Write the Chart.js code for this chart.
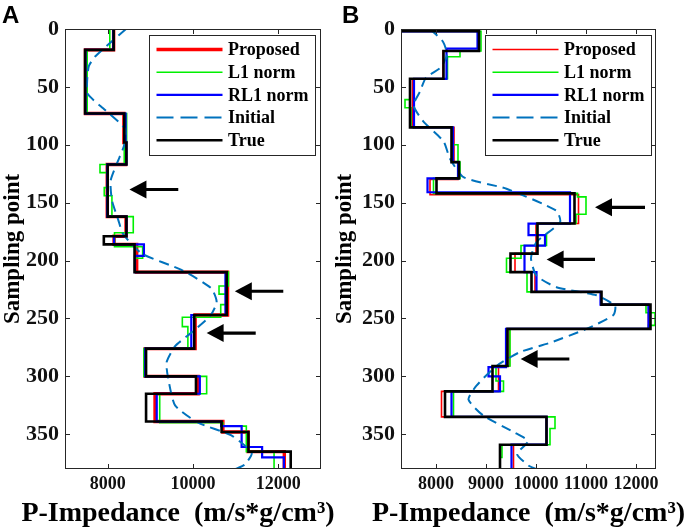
<!DOCTYPE html>
<html><head><meta charset="utf-8">
<script src="https://cdn.jsdelivr.net/npm/chart.js@4.4.0/dist/chart.umd.min.js"></script>
<style>
html,body{margin:0;padding:0;background:#fff;}
#wrap{position:relative;width:692px;height:530px;overflow:hidden;background:#fff;}
canvas{position:absolute;top:0;}
#ca{left:0;} #cb{left:330px;}
</style></head><body>
<div id="wrap"><canvas id="ca" width="340" height="530"></canvas><canvas id="cb" width="362" height="530"></canvas></div>
<script>
// ---------- data ----------
const seriesNames = ['Proposed', 'L1 norm', 'RL1 norm', 'Initial', 'True'];
const xTitleText = 'P-Impedance  (m/s*g/cm\u00b3)';
const yTitleText = 'Sampling point';
const depthMax = 380;
const yTicks = [0, 50, 100, 150, 200, 250, 300, 350];
const xTicksA = [8000, 10000, 12000];
const xTicksB = [8000, 9000, 10000, 11000, 12000];

// Panel A
const trueTopsA = [0, 18, 73, 98, 117, 162, 179, 186, 210, 247, 276, 300, 315, 339, 348, 365];
const trueValsA = [8140, 7470, 8390, 8440, 8000, 8440, 7910, 8630, 10790, 10030, 8900, 10070, 8900, 10670, 11300, 12290];
const propTopsA = [0, 18, 73, 98, 117, 162, 179, 186, 210, 247, 276, 300, 315, 339, 348, 365];
const propValsA = [8140, 7480, 8380, 8420, 7990, 8430, 8150, 8680, 10810, 10050, 8880, 10120, 9110, 10700, 11290, 12140];
const rl1TopsA = [0, 18, 73, 98, 117, 162, 179, 186, 196, 210, 247, 276, 300, 315, 339, 343, 361, 370];
const rl1ValsA = [8130, 7480, 8420, 8440, 7990, 8440, 8150, 8850, 8640, 10760, 9960, 8880, 10160, 9150, 10660, 11140, 11620, 12130];
const l1TopsA = [0, 18, 73, 98, 117, 124, 137, 144, 162, 176, 188, 198, 210, 222, 229, 238, 249, 257, 276, 300, 315, 340, 343, 365];
const l1ValsA = [8050, 7520, 8445, 8390, 7820, 8000, 7920, 8100, 8600, 8160, 8820, 8640, 10830, 10610, 10800, 10650, 9750, 9880, 8850, 10320, 9220, 10700, 11250, 11900];
const iniDepthA = [0, 10, 24, 32, 44, 56, 70, 86, 100, 115, 131, 148, 165, 177, 194, 208, 224, 236, 248, 262, 274, 288, 302, 325, 340, 351, 366, 376, 380];
const iniValsA = [8430, 8120, 7700, 7560, 7520, 7530, 7940, 8400, 8390, 8230, 8070, 8100, 8250, 8360, 8800, 9730, 10430, 10555, 10400, 9970, 9580, 9380, 9420, 9580, 10120, 10900, 11375, 11220, 11000];
const arrowTipA = [8510, 10980, 10320];
const arrowTailA = [9655, 12116, 11470];
const arrowDepthA = [138.6, 226.5, 262.6];

// Panel B
const trueTopsB = [0, 2, 19, 43, 85, 115, 129, 142, 168, 194, 210, 227, 238, 259, 291, 313, 335, 359];
const trueValsB = [7310, 8860, 8150, 7480, 8310, 8460, 8010, 10770, 10030, 9490, 9910, 11310, 12290, 9430, 9130, 8180, 10210, 9280];
const propTopsB = [0, 2, 19, 43, 85, 115, 130, 143, 168, 194, 210, 227, 238, 259, 291, 313, 335, 359];
const propValsB = [7310, 8850, 8140, 7530, 8360, 8440, 7880, 10850, 10000, 9580, 9980, 11300, 12250, 9470, 9250, 8110, 10210, 9550];
const rl1TopsB = [0, 2, 17, 43, 85, 115, 129, 141, 168, 178, 187, 210, 227, 238, 259, 292, 300, 313, 335, 359];
const rl1ValsB = [7310, 8830, 8210, 7560, 8340, 8440, 7830, 10680, 9850, 10180, 9770, 10010, 11290, 12250, 9400, 9050, 9280, 8310, 10210, 9510];
const l1TopsB = [0, 2, 19, 24, 43, 61, 68, 85, 100, 115, 129, 142, 145, 160, 168, 178, 187, 198, 210, 227, 238, 245, 256, 259, 291, 304, 313, 335, 345, 359, 370];
const l1ValsB = [7310, 8900, 8480, 8230, 7480, 7380, 7500, 8340, 8440, 8480, 7950, 10830, 11000, 10800, 10020, 10210, 9700, 9410, 9820, 11300, 12200, 12380, 12250, 9480, 9200, 9350, 8350, 10380, 10280, 9320, 9280];
const iniDepthB = [0, 11, 22, 33, 42, 54, 66, 80, 97, 112, 128, 138, 157, 167, 184, 198, 213, 223, 230, 239, 247, 259, 271, 279, 291, 308, 320, 334, 348, 356, 367, 377, 380];
const iniValsB = [7880, 8140, 8220, 8100, 7800, 7680, 7550, 7750, 8150, 8280, 8550, 9410, 10410, 10480, 10010, 9900, 10010, 10410, 11210, 11580, 11550, 11010, 10280, 9680, 9210, 8810, 8650, 8950, 9550, 9840, 9620, 9850, 10000];
const arrowTipB = [11180, 10213, 9693];
const arrowTailB = [12180, 11180, 10667];
const arrowDepthB = [154, 199, 285];

// ---------- helpers ----------
function steps(tops, vals) {
  const pts = tops.map((t, i) => ({x: vals[i], y: t}));
  pts.push({x: vals[vals.length - 1], y: depthMax});
  return pts;
}
function curve(depths, vals) { return depths.map((d, i) => ({x: vals[i], y: d})); }

const SERIF = '"Liberation Serif", "Times New Roman", serif';
const AXIS_COLOR = '#262626';

const framePlugin = {
  id: 'frame',
  afterDatasetsDraw(chart) {
    const {ctx, chartArea: a, scales: {x, y}} = chart;
    ctx.save();
    ctx.strokeStyle = AXIS_COLOR; ctx.lineWidth = 1;
    ctx.strokeRect(a.left + 0.5, a.top + 0.5, a.right - a.left - 1, a.bottom - a.top - 1);
    const L = 5;
    ctx.beginPath();
    x.ticks.forEach(t => {
      const px = Math.round(x.getPixelForValue(t.value)) + 0.5;
      ctx.moveTo(px, a.bottom); ctx.lineTo(px, a.bottom - L);
      ctx.moveTo(px, a.top); ctx.lineTo(px, a.top + L);
    });
    y.ticks.forEach(t => {
      const py = Math.round(y.getPixelForValue(t.value)) + 0.5;
      ctx.moveTo(a.left, py); ctx.lineTo(a.left + L, py);
      ctx.moveTo(a.right, py); ctx.lineTo(a.right - L, py);
    });
    ctx.stroke();
    ctx.restore();
  }
};

const arrowPlugin = {
  id: 'arrows',
  afterDatasetsDraw(chart, args, opts) {
    const {ctx, scales: {x, y}} = chart;
    ctx.save();
    ctx.fillStyle = '#000'; ctx.strokeStyle = '#000';
    opts.tip.forEach((tv, i) => {
      const tx = x.getPixelForValue(tv), ex = x.getPixelForValue(opts.tail[i]);
      const py = y.getPixelForValue(opts.depth[i]);
      const hl = 17, hw = 9;
      ctx.lineWidth = 3.2;
      ctx.beginPath(); ctx.moveTo(tx + hl - 1, py); ctx.lineTo(ex, py); ctx.stroke();
      ctx.beginPath(); ctx.moveTo(tx, py); ctx.lineTo(tx + hl, py - hw); ctx.lineTo(tx + hl, py + hw); ctx.closePath(); ctx.fill();
    });
    ctx.restore();
  }
};

const legendPlugin = {
  id: 'boxLegend',
  afterDraw(chart, args, opts) {
    const {ctx, chartArea: a} = chart;
    const w = 166, h = 120;
    const left = a.right - opts.rightGap - w, top = a.top + 6;
    ctx.save();
    ctx.fillStyle = '#fff'; ctx.fillRect(left, top, w, h);
    ctx.strokeStyle = AXIS_COLOR; ctx.lineWidth = 1;
    ctx.strokeRect(left + 0.5, top + 0.5, w, h);
    ctx.font = 'bold 18px ' + SERIF; ctx.textBaseline = 'middle'; ctx.fillStyle = '#000';
    chart.data.datasets.forEach((ds, i) => {
      const ry = top + 14.5 + i * 22.7;
      ctx.beginPath();
      ctx.strokeStyle = ds.borderColor; ctx.lineWidth = ds.borderWidth;
      ctx.setLineDash(ds.borderDash && ds.borderDash.length ? [17, 7] : []);
      ctx.moveTo(left + 7.5, ry); ctx.lineTo(left + 73.5, ry); ctx.stroke();
      ctx.setLineDash([]);
      ctx.fillText(ds.label, left + 79, ry + 1);
    });
    ctx.restore();
  }
};

// panel letter and x-axis title (drawn without width compression)
const textPlugin = {
  id: 'panelText',
  afterDraw(chart, args, opts) {
    const {ctx, chartArea: a} = chart;
    ctx.save();
    ctx.fillStyle = '#000'; ctx.textBaseline = 'alphabetic';
    ctx.font = 'bold 24px "Liberation Sans", Arial, sans-serif';
    ctx.textAlign = 'left';
    ctx.fillText(opts.label, opts.labelX, 23);
    ctx.font = 'bold 28px ' + SERIF;
    ctx.textAlign = 'center';
    ctx.fillText(opts.xTitle, (a.left + a.right) / 2 + opts.titleShift, 521);
    ctx.restore();
  }
};

function makeChart(id, c) {
  const ds = (label, data, color, width, order, extra) => Object.assign({
    label, data, borderColor: color, backgroundColor: color, borderWidth: width,
    showLine: true, pointRadius: 0, pointHoverRadius: 0, fill: false, order
  }, extra || {});
  return new Chart(document.getElementById(id), {
    type: 'scatter',
    data: {datasets: [
      ds(seriesNames[0], steps(c.propTops, c.propVals), '#ff0000', c.propWidth, 4, {stepped: 'after'}),
      ds(seriesNames[1], steps(c.l1Tops, c.l1Vals), '#00f000', 1.6, 3, {stepped: 'after'}),
      ds(seriesNames[2], steps(c.rl1Tops, c.rl1Vals), '#0000ff', 2.2, 2, {stepped: 'after'}),
      ds(seriesNames[3], curve(c.iniDepth, c.iniVals), '#0072bd', 2, 1, {borderDash: [10, 6], tension: 0.2}),
      ds(seriesNames[4], steps(c.trueTops, c.trueVals), '#000000', 2.6, 0, {stepped: 'after'})
    ]},
    options: {
      responsive: false, animation: false, events: [],
      layout: {padding: {left: 0, top: 29, right: c.padRight, bottom: 0}},
      plugins: {
        legend: {display: false}, tooltip: {enabled: false},
        arrows: {tip: c.arrowTip, tail: c.arrowTail, depth: c.arrowDepth},
        boxLegend: {rightGap: c.legendGap},
        panelText: {label: c.label, labelX: c.labelX, xTitle: xTitleText, titleShift: c.titleShift}
      },
      scales: {
        x: {
          type: 'linear', position: 'bottom', min: c.xMin, max: c.xMax,
          afterBuildTicks: s => { s.ticks = c.xTicks.map(v => ({value: v})); },
          afterFit: s => { s.height = 61; },
          grid: {display: false, drawTicks: false}, border: {display: false},
          ticks: {autoSkip: false, maxRotation: 0, padding: 5, color: '#111',
                  font: {family: SERIF, size: 18, weight: 'bold'}, callback: v => String(v)},
          title: {display: false}
        },
        y: {
          type: 'linear', position: 'left', reverse: true, min: 0, max: depthMax,
          afterBuildTicks: s => { s.ticks = yTicks.map(v => ({value: v})); },
          afterFit: s => { s.width = c.yWidth; },
          grid: {display: false, drawTicks: false}, border: {display: false},
          ticks: {autoSkip: false, padding: 6, color: '#111',
                  font: {family: SERIF, size: 22, weight: 'bold'}, callback: v => String(v)},
          title: {display: true, text: yTitleText, color: '#000', padding: {top: c.yTitlePad, bottom: 0},
                  font: {family: SERIF, size: 23, weight: 'bold', lineHeight: 1.15}}
        }
      }
    },
    plugins: [framePlugin, arrowPlugin, legendPlugin, textPlugin]
  });
}

makeChart('ca', {
  label: 'A', labelX: 2, yWidth: 65, padRight: 19, yTitlePad: 0, legendGap: 6, titleShift: -15,
  xMin: 7000, xMax: 13000, xTicks: xTicksA, propWidth: 3.4,
  trueTops: trueTopsA, trueVals: trueValsA, propTops: propTopsA, propVals: propValsA,
  rl1Tops: rl1TopsA, rl1Vals: rl1ValsA, l1Tops: l1TopsA, l1Vals: l1ValsA,
  iniDepth: iniDepthA, iniVals: iniValsA,
  arrowTip: arrowTipA, arrowTail: arrowTailA, arrowDepth: arrowDepthA
});
makeChart('cb', {
  label: 'B', labelX: 12, yWidth: 71, padRight: 36, yTitlePad: 2, legendGap: 5, titleShift: 0,
  xMin: 7300, xMax: 12400, xTicks: xTicksB, propWidth: 1.6,
  trueTops: trueTopsB, trueVals: trueValsB, propTops: propTopsB, propVals: propValsB,
  rl1Tops: rl1TopsB, rl1Vals: rl1ValsB, l1Tops: l1TopsB, l1Vals: l1ValsB,
  iniDepth: iniDepthB, iniVals: iniValsB,
  arrowTip: arrowTipB, arrowTail: arrowTailB, arrowDepth: arrowDepthB
});
</script>
</body></html>
